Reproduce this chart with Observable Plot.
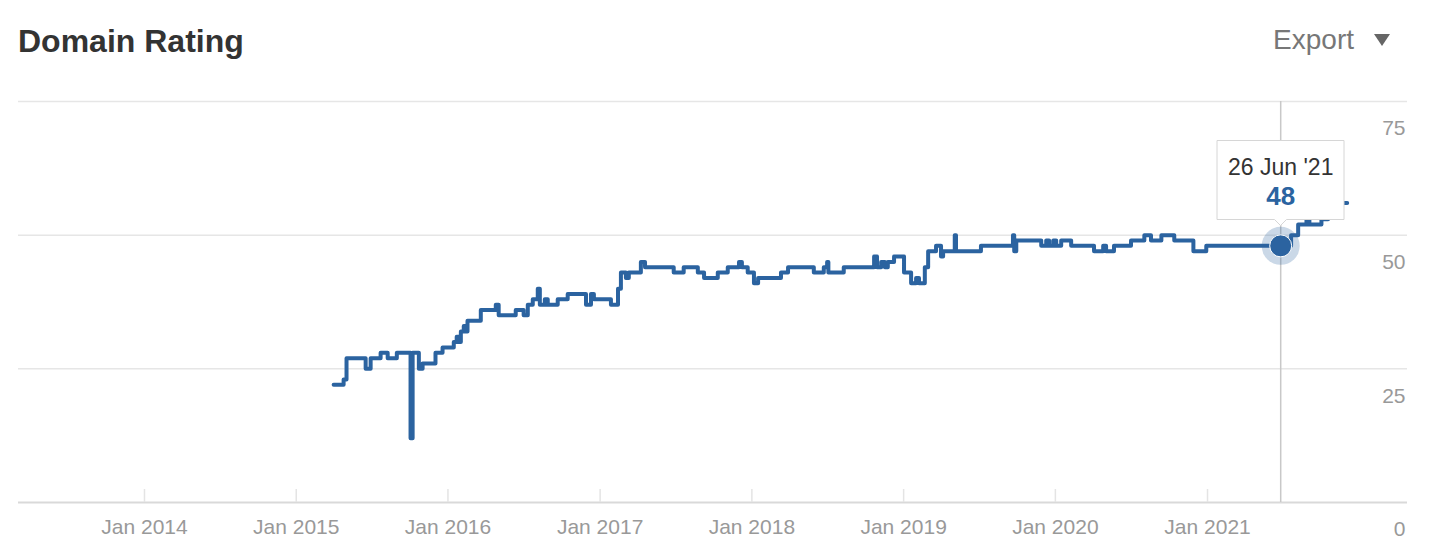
<!DOCTYPE html>
<html><head><meta charset="utf-8">
<script src="https://cdn.jsdelivr.net/npm/d3@7"></script>
<script src="https://cdn.jsdelivr.net/npm/@observablehq/plot@0.6"></script>
<style>
html,body{margin:0;padding:0;background:#fff;}
body{width:1444px;height:558px;overflow:hidden;font-family:"Liberation Sans",Arial,Helvetica,sans-serif;}
#header{position:relative;height:80px;}
#title{position:absolute;left:18px;top:25px;font-size:32px;line-height:32px;font-weight:bold;color:#333;}
#export{position:absolute;right:90px;top:26px;font-size:28px;line-height:28px;color:#777;}
#caret{position:absolute;left:1374px;top:34px;width:0;height:0;border-left:8px solid transparent;border-right:8px solid transparent;border-top:12px solid #666;}
#chart svg{display:block;}
</style></head>
<body>
<div id="header"><div id="title">Domain Rating</div><div id="export">Export</div><div id="caret"></div></div>
<div id="chart"></div>
<script>
const drDates = [
  "2015-04-01","2015-04-25","2015-05-02","2015-06-17","2015-06-29","2015-07-23","2015-08-09","2015-08-31",
  "2015-10-03","2015-10-08","2015-10-23","2015-11-01","2015-12-02","2015-12-19",
  "2016-01-15","2016-01-22","2016-01-27","2016-02-01","2016-02-08","2016-02-13","2016-02-17","2016-03-20",
  "2016-04-25","2016-05-02","2016-06-12","2016-07-01","2016-07-11","2016-07-23","2016-08-04","2016-08-09",
  "2016-08-21","2016-08-28","2016-09-21","2016-10-15","2016-11-28","2016-12-10","2016-12-17",
  "2017-01-27","2017-02-13","2017-02-20","2017-03-04","2017-03-11","2017-04-09","2017-04-19","2017-06-27",
  "2017-07-21","2017-08-24","2017-09-08","2017-10-11","2017-11-04","2017-12-01","2017-12-08","2017-12-22",
  "2018-01-06","2018-01-16","2018-03-12","2018-03-29","2018-05-30","2018-06-23","2018-07-01","2018-07-04",
  "2018-08-10","2018-10-22","2018-10-29","2018-11-08","2018-11-17","2018-11-24","2018-12-09",
  "2019-01-02","2019-01-19","2019-01-31","2019-02-07","2019-02-21","2019-03-01","2019-03-20","2019-04-01",
  "2019-04-06","2019-05-04","2019-05-07","2019-07-06","2019-09-21","2019-09-24","2019-09-29","2019-11-28",
  "2019-12-10","2019-12-17","2019-12-27",
  "2020-01-03","2020-01-15","2020-02-08","2020-04-03","2020-04-25","2020-05-02","2020-05-21","2020-07-01",
  "2020-08-02","2020-08-18","2020-09-12","2020-10-13","2020-11-28","2020-12-29",
  "2021-07-21","2021-08-07","2021-08-27","2021-09-03","2021-10-02","2021-10-18","2021-11-02","2021-11-19","2021-12-03"
];
const drValues = [
  22,23,27,25,27,28,27,28,
  12,28,25,26,28,29,
  30,31,30,32,33,32,34,36,
  37,35,36,35,37,38,40,37,
  38,37,38,39,37,39,38,
  37,40,43,42,43,45,44,43,
  44,43,42,43,44,45,44,43,
  41,42,43,44,43,44,45,43,
  44,46,44,45,44,45,46,
  43,41,42,41,44,47,48,46,
  47,50,47,48,50,47,49,48,
  49,48,49,
  48,49,48,47,48,47,48,49,
  50,49,50,49,47,48,
  50,52,53,52,53,54,55,56,56
];
const yTicks = [0, 25, 50, 75];
const xTickDates = ["2014-01-01","2015-01-01","2016-01-01","2017-01-01","2018-01-01","2019-01-01","2020-01-01","2021-01-01"];
const xDomain = ["2013-03-04", "2022-04-27"];
const yDomain = [0, 75];
const hoverDate = "2021-06-26";
const hoverValue = 48;

const parse = d3.utcParse("%Y-%m-%d");
const series = drDates.map((d, i) => ({date: parse(d), value: drValues[i]}));
const ticks = xTickDates.map(parse);
const hover = [{date: parse(hoverDate), value: hoverValue}];
const lineColor = "#2b63a0";
const fmtTip = d3.utcFormat("%-d %b '%y");

const chart = Plot.plot({
  width: 1444, height: 478,
  marginTop: 21, marginBottom: 56, marginLeft: 18, marginRight: 37,
  style: {fontFamily: '"Liberation Sans", Arial, sans-serif', background: "#fff", color: "#333", overflow: "visible"},
  x: {type: "utc", domain: xDomain.map(parse), label: null},
  y: {domain: yDomain, label: null},
  marks: [
    Plot.ruleY(yTicks.filter(v => v > 0), {stroke: "#e6e6e6", strokeWidth: 1.5}),
    Plot.ruleY([0], {stroke: "#d9d9d9", strokeWidth: 2}),
    Plot.tickX(ticks, {x: d => d, stroke: "#e4e4e4", strokeWidth: 1.5, insetTop: 388}),
    Plot.axisX(ticks, {tickFormat: d3.utcFormat("%b %Y"), tickSize: 0, tickPadding: 17, fontSize: 21, color: "#999", label: null}),
    Plot.axisY(yTicks, {anchor: "right", tickSize: 0, tickPadding: 0, textAnchor: "end", dx: -2, dy: 27, fontSize: 21, color: "#999", label: null}),
    Plot.ruleX(hover, {x: "date", stroke: "#c8c8c8", strokeWidth: 1.5}),
    Plot.line(series, {x: "date", y: "value", curve: "step-after", stroke: lineColor, strokeWidth: 4, strokeLinejoin: "round"}),
    Plot.dot(hover, {x: "date", y: "value", r: 19, fill: lineColor, fillOpacity: 0.25}),
    Plot.dot(hover, {x: "date", y: "value", r: 11, fill: lineColor, stroke: "#fff", strokeWidth: 1}),
    Plot.tip(hover, {
      x: "date", y: "value", anchor: "bottom", dy: -20,
      title: d => `${fmtTip(d.date)}\n${d.value}`,
      fontSize: 23, lineHeight: 1.15, textPadding: 11, textAnchor: "middle",
      stroke: "#d6d6d6", fill: "#fff", pathFilter: "none"
    })
  ]
});
document.getElementById("chart").appendChild(chart);
const tsp = d3.select(chart).selectAll('g[aria-label="tip"] tspan');
tsp.attr("fill", "#333");
tsp.filter((d, i) => i === 1).attr("fill", lineColor).attr("font-weight", "bold").attr("font-size", 26);
</script>
</body></html>
